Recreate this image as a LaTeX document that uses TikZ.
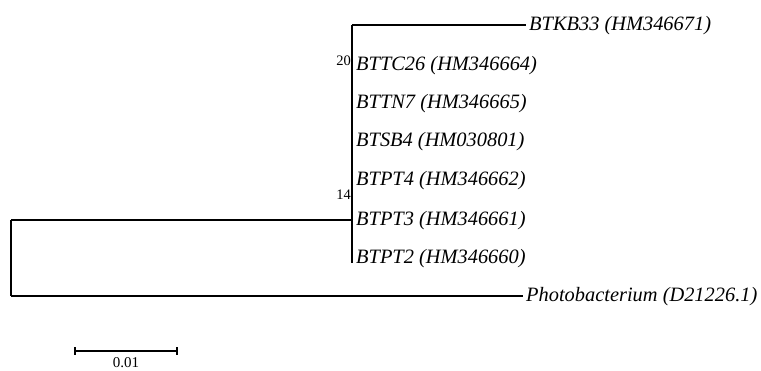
\documentclass[tikz,border=0pt]{standalone}
\usepackage{fontspec}
\setmainfont{Liberation Serif}
\begin{document}
\begin{tikzpicture}[x=1pt,y=-1pt,
  leaf/.style={anchor=west,inner xsep=3pt,inner ysep=0pt,font=\fontsize{20.4}{22}\selectfont\itshape},
  boot/.style={anchor=east,inner sep=0pt,font=\fontsize{14.5}{16}\selectfont},
  branch/.style={line width=1.3pt},
  scalelbl/.style={anchor=north,inner sep=0pt,font=\fontsize{15}{16}\selectfont}]
\useasboundingbox (0,0) rectangle (761,371);
% internal nodes
\coordinate (root) at (11,220);
\coordinate (rbot) at (11,296);
\coordinate (c) at (352,220);
\coordinate (ctop) at (352,25);
\coordinate (cbot) at (352,263);
% leaves
\node[leaf] (kb33) at (526,26) {BTKB33 (HM346671)};
\node[leaf] (tc26) at (353,66) {BTTC26 (HM346664)};
\node[leaf] (tn7) at (353,104) {BTTN7 (HM346665)};
\node[leaf] (sb4) at (353,142) {BTSB4 (HM030801)};
\node[leaf] (pt4) at (353,181) {BTPT4 (HM346662)};
\node[leaf] (pt3) at (353,221) {BTPT3 (HM346661)};
\node[leaf] (pt2) at (353,259) {BTPT2 (HM346660)};
\node[leaf] (photo) at (523,297) {Photobacterium (D21226.1)};
% bootstrap values
\node[boot] (b20) at (351,61) {20};
\node[boot] (b14) at (351,195) {14};
% branches
\draw[branch] (ctop) -- (cbot);
\draw[branch] (ctop) -- (kb33.west |- ctop);
\draw[branch] (c) -- (root);
\draw[branch] (root) -- (rbot);
\draw[branch] (rbot) -- (photo.west |- rbot);
% scale bar
\coordinate (s1) at (75,351);
\coordinate (s2) at (177,351);
\draw[branch] (s1) -- (s2);
\draw[line width=1.3pt] ([yshift=-4]s1) -- ([yshift=4]s1);
\draw[line width=1.3pt] ([yshift=-4]s2) -- ([yshift=4]s2);
\node[scalelbl] (sl) at (126,357) {0.01};
\end{tikzpicture}
\end{document}
